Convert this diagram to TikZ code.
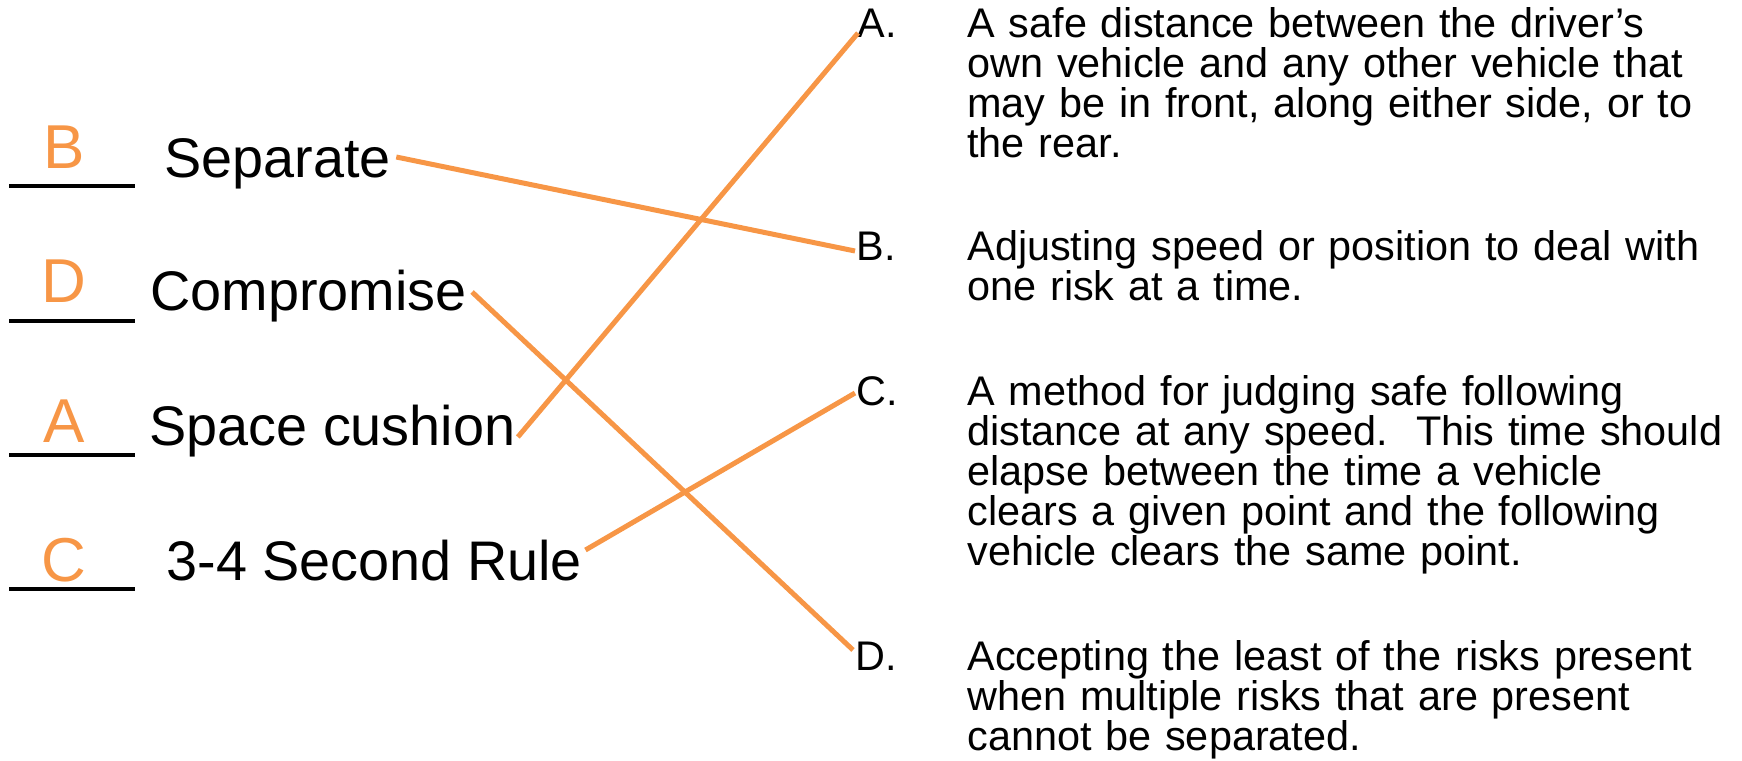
\documentclass[tikz,border=0pt]{standalone}
\usepackage{fontspec}
\setmainfont{Liberation Sans}
\definecolor{ans}{HTML}{F79646}
\frenchspacing
\begin{document}
\begin{tikzpicture}[x=0.5pt,y=-0.5pt,
  term/.style={anchor=base west, inner sep=0pt, font=\fontsize{27.9}{33}\selectfont},
  answer/.style={anchor=base, inner sep=0pt, text=ans, font=\fontsize{31}{37}\selectfont},
  letter/.style={anchor=base west, inner sep=0pt, font=\fontsize{20.7}{20}\selectfont},
  defn/.style={anchor=base west, inner sep=0pt, text width=420pt, align=left, font=\fontsize{20.7}{20}\selectfont},
  blank/.style={line width=1.75pt},
  match/.style={draw=ans, line width=2.5pt}]
\useasboundingbox (0,0) rectangle (1742,761);
% blanks
\draw[blank] (9,186) -- (135,186);
\draw[blank] (9,321) -- (135,321);
\draw[blank] (9,455) -- (135,455);
\draw[blank] (9,589) -- (135,589);
% answers
\node[answer] (ansB) at (64,168) {B};
\node[answer] (ansD) at (64,302) {D};
\node[answer] (ansA) at (64,442) {A};
\node[answer] (ansC) at (64,581) {C};
% terms
\node[term] (sep) at (164,177) {Separate};
\node[term] (comp) at (150,310) {Compromise};
\node[term] (space) at (149,445) {Space cushion};
\node[term] (rule) at (166,580) {3-4 Second Rule};
% letters
\node[letter] (la) at (857,37) {A.};
\node[letter] (lb) at (856,260) {B.};
\node[letter] (lc) at (856,405) {C.};
\node[letter] (ld) at (855,670) {D.};
% definitions
\node[defn] (da) at (967,37) {A safe distance between the driver’s\\own vehicle and any other vehicle that\\may be in front, along either side, or to\\the rear.};
\node[defn] (db) at (967,260) {Adjusting speed or position to deal with\\one risk at a time.};
\node[defn] (dc) at (967,405) {A method for judging safe following\\distance at any speed.~ This time should\\elapse between the time a vehicle\\clears a given point and the following\\vehicle clears the same point.};
\node[defn] (dd) at (967,670) {Accepting the least of the risks present\\when multiple risks that are present\\cannot be separated.};
% connectors
\draw[match] ([shift={(5,-20)}]sep.base east) -- ([shift={(-1,-9)}]lb.base west);
\draw[match] ([shift={(5,-18)}]comp.base east) -- ([shift={(-2,-20)}]ld.base west);
\draw[match] ([shift={(2,-8)}]space.base east) -- ([shift={(1,-4)}]la.base west);
\draw[match] ([shift={(3,-30)}]rule.base east) -- ([shift={(-1,-12)}]lc.base west);
\end{tikzpicture}
\end{document}
